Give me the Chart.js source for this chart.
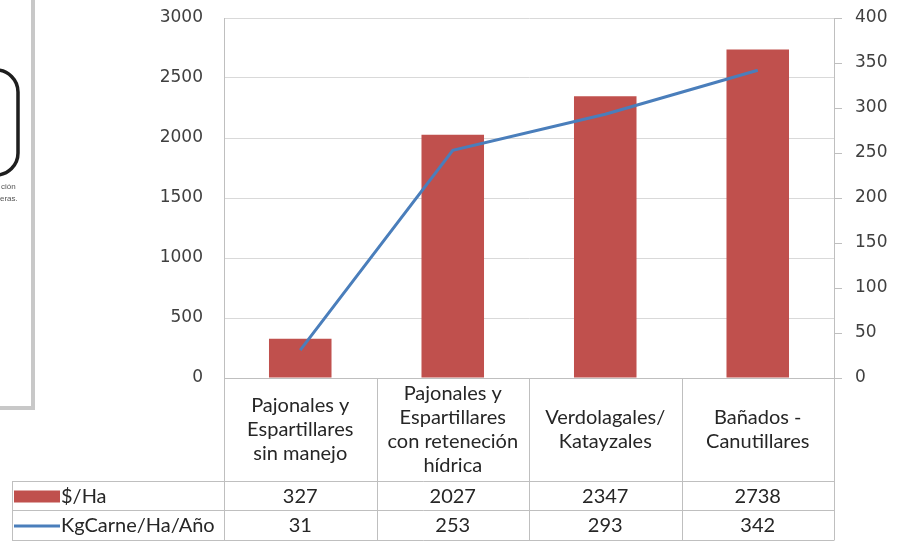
<!DOCTYPE html>
<html>
<head>
<meta charset="utf-8">
<script src="https://cdn.jsdelivr.net/npm/chart.js@4/dist/chart.umd.min.js"></script>
<style>
  html, body { margin: 0; padding: 0; background: #fff; }
  #wrap { width: 898px; height: 548px; position: relative; }
</style>
</head>
<body>
<div id="wrap"><canvas id="c" width="898" height="548"></canvas></div>
<script>
const categories = [
  ["Pajonales y", "Espartillares", "sin manejo"],
  ["Pajonales y", "Espartillares", "con reteneción", "hídrica"],
  ["Verdolagales/", "Katayzales"],
  ["Bañados -", "Canutillares"]
];
const seriesNames = ["$/Ha", "KgCarne/Ha/Año"];
const pesosHa = [327, 2027, 2347, 2738];
const kgCarne = [31, 253, 293, 342];
const leftAxis = { min: 0, max: 3000, step: 500 };
const rightAxis = { min: 0, max: 400, step: 50 };

const RED = '#c0504d';
const BLUE = '#4a7ebb';
const GRID = '#d9d9d9';
const AXIS = '#bfbfbf';
const TXT = '#404040';
const TABLEFONT = '20px Lato, "Open Sans", sans-serif';
const TICKFONT = { family: "'DejaVu Sans', Verdana, sans-serif", size: 17 };

const tablePlugin = {
  id: 'dataTable',
  beforeDraw(chart) {
    const ctx = chart.ctx;
    ctx.save();
    // cropped neighbouring figure fragment on the far left
    ctx.strokeStyle = '#c8c8c8';
    ctx.lineWidth = 4;
    ctx.beginPath();
    ctx.moveTo(33, 0); ctx.lineTo(33, 408); ctx.lineTo(0, 408);
    ctx.stroke();
    ctx.strokeStyle = '#1e1e1e';
    ctx.lineWidth = 3.5;
    ctx.beginPath();
    ctx.roundRect(-60, 70, 78, 105, 22);
    ctx.stroke();
    ctx.fillStyle = '#555';
    ctx.font = '8px "Liberation Sans", sans-serif';
    ctx.textBaseline = 'middle';
    ctx.textAlign = 'left';
    ctx.fillText('ción', 1, 187);
    ctx.fillText('eras.', 0, 199);
    ctx.restore();
  },
  afterDraw(chart) {
    const ctx = chart.ctx;
    const xs = chart.scales.x;
    const area = chart.chartArea;
    const n = categories.length;
    const half = (xs.getPixelForValue(1) - xs.getPixelForValue(0)) / 2;
    const bounds = [];
    for (let i = 0; i < n; i++) bounds.push(xs.getPixelForValue(i) - half);
    bounds.push(xs.getPixelForValue(n - 1) + half);
    const top = area.bottom;
    const r1 = 481, r2 = 510, r3 = 540, left = 12;
    ctx.save();
    ctx.strokeStyle = AXIS;
    ctx.lineWidth = 1;
    ctx.beginPath();
    bounds.forEach(b => { const x = Math.round(b) + 0.5; ctx.moveTo(x, top); ctx.lineTo(x, r3); });
    [r1, r2, r3].forEach(y => { ctx.moveTo(left, y + 0.5); ctx.lineTo(Math.round(bounds[n]) + 0.5, y + 0.5); });
    ctx.moveTo(left + 0.5, r1); ctx.lineTo(left + 0.5, r3);
    ctx.stroke();

    ctx.fillStyle = '#262626';
    ctx.textAlign = 'center';
    ctx.textBaseline = 'middle';
    ctx.font = TABLEFONT;
    const lh = 24;
    categories.forEach((lines, i) => {
      const cx = xs.getPixelForValue(i);
      const cy = (top + r1) / 2 + 0;
      const start = cy - (lines.length - 1) * lh / 2;
      lines.forEach((t, k) => ctx.fillText(t, cx, start + k * lh));
    });
    const rows = [pesosHa, kgCarne];
    const rowY = [(r1 + r2) / 2 + 1, (r2 + r3) / 2 + 1];
    rows.forEach((vals, r) => {
      vals.forEach((v, i) => ctx.fillText(String(v), xs.getPixelForValue(i), rowY[r]));
    });
    // legend keys
    ctx.fillStyle = RED;
    ctx.fillRect(14, rowY[0] - 6, 46, 12);
    ctx.strokeStyle = BLUE;
    ctx.lineWidth = 3;
    ctx.beginPath();
    ctx.moveTo(14, rowY[1]); ctx.lineTo(60, rowY[1]);
    ctx.stroke();
    ctx.fillStyle = '#262626';
    ctx.textAlign = 'left';
    ctx.fillText(seriesNames[0], 61, rowY[0]);
    ctx.fillText(seriesNames[1], 61, rowY[1]);
    ctx.restore();
  }
};

new Chart(document.getElementById('c'), {
  data: {
    labels: categories.map(c => c.join(' ')),
    datasets: [
      {
        type: 'line', label: seriesNames[1], data: kgCarne, yAxisID: 'y1',
        borderColor: BLUE, borderWidth: 3, pointRadius: 0, tension: 0, fill: false, order: 0
      },
      {
        type: 'bar', label: seriesNames[0], data: pesosHa, yAxisID: 'y',
        backgroundColor: RED, borderWidth: 0, categoryPercentage: 1, barPercentage: 0.41, order: 1
      }
    ]
  },
  options: {
    responsive: false,
    animation: false,
    devicePixelRatio: 1,
    layout: { padding: { top: 18, left: 0, right: 0, bottom: 0 } },
    plugins: { legend: { display: false }, tooltip: { enabled: false } },
    scales: {
      x: {
        grid: { display: false },
        ticks: { display: false },
        border: { color: AXIS },
        afterFit(s) { s.height = 170; }
      },
      y: {
        position: 'left', min: leftAxis.min, max: leftAxis.max,
        ticks: { stepSize: leftAxis.step, font: TICKFONT, color: TXT, padding: 21, callback: v => String(v) },
        grid: { color: GRID, drawTicks: false },
        border: { color: AXIS },
        afterFit(s) { s.width = 224; s.paddingTop = 0; s.paddingBottom = 0; }
      },
      y1: {
        position: 'right', min: rightAxis.min, max: rightAxis.max,
        ticks: { stepSize: rightAxis.step, font: TICKFONT, color: TXT, padding: 13, callback: v => String(v) },
        grid: { drawOnChartArea: false, drawTicks: true, tickLength: 8, color: AXIS },
        border: { color: AXIS },
        afterFit(s) { s.width = 64; s.paddingTop = 0; s.paddingBottom = 0; }
      }
    }
  },
  plugins: [tablePlugin]
});
</script>
</body>
</html>
